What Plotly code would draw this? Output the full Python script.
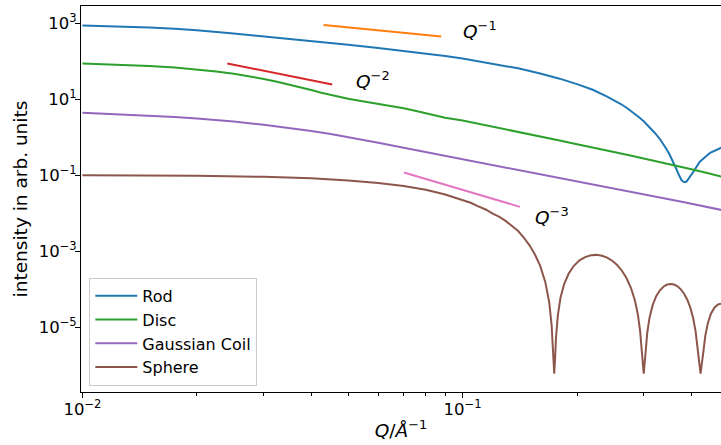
import math
import plotly.graph_objects as go

# ---------------- data ----------------
q_rod = [0.01, 0.0125, 0.015, 0.0175, 0.02, 0.025, 0.03, 0.035, 0.04, 0.05, 0.06, 0.07,
         0.08, 0.09, 0.1, 0.12, 0.14, 0.16, 0.18, 0.2, 0.22, 0.24, 0.25, 0.26, 0.27,
         0.28, 0.29, 0.3, 0.31, 0.32, 0.33, 0.337, 0.343, 0.35,
         0.358, 0.366, 0.371, 0.3765, 0.3805, 0.3845, 0.3885, 0.3926,
         0.3985, 0.4047, 0.4207, 0.4478, 0.479]
i_rod = [892, 846, 788, 725, 665, 548, 462, 397, 343, 277, 228, 192,
         163, 139, 120, 88, 66, 48.5, 35.3, 25.3, 18, 11.9, 9.7, 7.7, 6.05,
         4.7, 3.5, 2.62, 1.87, 1.33, 0.92, 0.68, 0.51, 0.36,
         0.23, 0.138, 0.100, 0.075, 0.068, 0.066, 0.069, 0.079,
         0.099, 0.124, 0.228, 0.394, 0.532]

q_disc = [0.01, 0.0125, 0.015, 0.0175, 0.02, 0.0225, 0.025, 0.0275, 0.03, 0.0325, 0.035,
          0.0375, 0.04, 0.0425, 0.045, 0.0475, 0.05, 0.055, 0.06, 0.065, 0.07, 0.075,
          0.08, 0.09, 0.1, 0.11, 0.12, 0.13, 0.14, 0.16, 0.18, 0.2, 0.22, 0.25, 0.28,
          0.3, 0.32, 0.36, 0.4, 0.44, 0.48]
i_disc = [88.6, 83.4, 76.0, 69.4, 61.9, 54.6, 47.4, 40.8, 34.8, 29.4, 24.8,
          20.8, 17.7, 15.1, 13.1, 11.5, 10.4, 8.78, 7.70, 6.77, 5.87, 5.02,
          4.28, 3.30, 2.77, 2.29, 1.87, 1.59, 1.40, 1.04, 0.83, 0.657, 0.545, 0.414, 0.322,
          0.278, 0.240, 0.184, 0.144, 0.115, 0.092]

q_coil = [0.01, 0.0125, 0.015, 0.0175, 0.02, 0.025, 0.03, 0.035, 0.04, 0.045, 0.05, 0.06,
          0.07, 0.08, 0.09, 0.1, 0.12, 0.14, 0.16, 0.18, 0.2, 0.25, 0.3, 0.38, 0.48]
i_coil = [4.44, 4.08, 3.76, 3.45, 3.17, 2.62, 2.14, 1.77, 1.47, 1.22, 1.02, 0.72,
          0.53, 0.41, 0.328, 0.267, 0.184, 0.137, 0.1063, 0.0865, 0.0705, 0.0458,
          0.032, 0.0198, 0.0122]

q_sphere = [0.01, 0.02, 0.03, 0.04, 0.05, 0.06, 0.07, 0.08, 0.09, 0.095, 0.1, 0.105,
            0.11, 0.115, 0.12, 0.125, 0.13, 0.135, 0.14, 0.145, 0.15, 0.155, 0.16,
            0.165, 0.169, 0.1715, 0.1732, 0.1742, 0.1753, 0.176, 0.178, 0.181, 0.185,
            0.19, 0.196, 0.203, 0.21, 0.2175, 0.225, 0.2325, 0.24, 0.2475, 0.255,
            0.2625, 0.27, 0.2775, 0.284, 0.289, 0.293, 0.296, 0.2995, 0.303, 0.306,
            0.31, 0.316, 0.323, 0.33, 0.3375, 0.345, 0.3527, 0.36, 0.3675, 0.375,
            0.3825, 0.39, 0.397, 0.404, 0.41, 0.415, 0.4226, 0.43, 0.435, 0.442,
            0.45, 0.46, 0.47, 0.4783]
i_sphere = [0.1005, 0.0978, 0.0912, 0.0832, 0.0735, 0.0630, 0.0524, 0.0415, 0.0312,
            0.0266, 0.0224, 0.0189, 0.0152, 0.0126, 0.0098, 0.0080, 0.0062, 0.0046,
            0.0034, 0.00226, 0.00143, 8.2e-4, 4.1e-4, 1.55e-4, 4.5e-5, 1.1e-5, 1.45e-6,
            5.9e-7, 1.9e-6, 4.9e-6, 2.0e-5, 6.0e-5, 1.36e-4, 2.54e-4, 4.07e-4, 5.73e-4,
            7.0e-4, 7.83e-4, 8.0e-4, 7.6e-4, 6.75e-4, 5.6e-4, 4.32e-4, 3.06e-4, 1.94e-4,
            1.05e-4, 5.0e-5, 2.19e-5, 7.9e-6, 2.2e-6, 5.9e-7, 2.2e-6, 7.0e-6, 1.7e-5,
            3.73e-5, 6.5e-5, 9.2e-5, 1.16e-4, 1.32e-4, 1.37e-4, 1.32e-4, 1.19e-4, 9.9e-5,
            7.6e-5, 5.26e-5, 3.3e-5, 1.74e-5, 7.8e-6, 2.7e-6, 5.9e-7, 2.3e-6, 5.95e-6,
            1.31e-5, 2.26e-5, 3.3e-5, 3.97e-5, 4.14e-5]

# power-law guide lines
q_ref1 = [0.0431, 0.0879]
i_ref1 = [920, 455]
q_ref2 = [0.02405, 0.0454]
i_ref2 = [88.5, 24.8]
q_ref3 = [0.0701, 0.1416]
i_ref3 = [0.1186, 0.01473]

series_names = ["Rod", "Disc", "Gaussian Coil", "Sphere"]
guide_labels = ["<i>Q</i><sup>\u22121</sup>", "<i>Q</i><sup>\u22122</sup>",
                "<i>Q</i><sup>\u22123</sup>"]

x_tick_vals = [0.01, 0.1]
x_tick_text = ["10<sup>\u22122</sup>", "10<sup>\u22121</sup>"]
x_minor_vals = [0.02, 0.03, 0.04, 0.05, 0.06, 0.07, 0.08, 0.09, 0.2, 0.3, 0.4]
y_tick_vals = [1e3, 1e1, 1e-1, 1e-3, 1e-5]
y_tick_text = ["10<sup>3</sup>", "10<sup>1</sup>", "10<sup>\u22121</sup>",
               "10<sup>\u22123</sup>", "10<sup>\u22125</sup>"]

x_title = "<i>Q</i>/<i>\u00c5</i><sup>\u22121</sup>"
y_title = "intensity in arb. units"

# ---------------- figure ----------------
FONT = "DejaVu Sans, Verdana, sans-serif"
C = {"Rod": "#1f77b4", "Disc": "#2ca02c", "Gaussian Coil": "#9467bd", "Sphere": "#8c564b"}

fig = go.Figure()
for name, qs, vals in zip(series_names,
                          [q_rod, q_disc, q_coil, q_sphere],
                          [i_rod, i_disc, i_coil, i_sphere]):
    fig.add_trace(go.Scatter(x=qs, y=vals, mode="lines", name=name,
                             line=dict(color=C[name], width=2)))

for qs, vals, col in [(q_ref1, i_ref1, "#ff7f0e"), (q_ref2, i_ref2, "#d62728"),
                      (q_ref3, i_ref3, "#e377c2")]:
    fig.add_trace(go.Scatter(x=qs, y=vals, mode="lines", showlegend=False,
                             line=dict(color=col, width=2)))

ann_pos = [(0.1002, 590), (0.0523, 28.5), (0.155, 0.0075)]
for (ax, ay), txt in zip(ann_pos, guide_labels):
    fig.add_annotation(x=math.log10(ax), y=math.log10(ay), text=txt, showarrow=False,
                       xanchor="left", yanchor="middle", xshift=-2, yshift=2,
                       font=dict(family=FONT, size=18.5, color="black"))

fig.update_layout(
    width=721, height=445,
    margin=dict(l=81, r=0, t=6, b=53, autoexpand=False),
    paper_bgcolor="white", plot_bgcolor="white",
    font=dict(family=FONT, size=16, color="black"),
    showlegend=True,
    legend=dict(x=0.013, y=0.016, xanchor="left", yanchor="bottom", itemwidth=42,
                bgcolor="rgba(255,255,255,0.8)", bordercolor="#cccccc", borderwidth=1,
                font=dict(family=FONT, size=16, color="black")),
)

fig.update_xaxes(
    type="log", range=[-2.0037, -0.3203], automargin=False,
    showgrid=False, zeroline=False,
    showline=True, linecolor="black", linewidth=1, mirror=True,
    ticks="outside", ticklen=5, tickwidth=1, tickcolor="black",
    tickmode="array", tickvals=x_tick_vals, ticktext=x_tick_text,
    tickfont=dict(family=FONT, size=16.5, color="black"), ticklabelstandoff=-3,
    minor=dict(ticks="outside", ticklen=3, tickwidth=1, tickcolor="black",
               tickmode="array", tickvals=x_minor_vals, showgrid=False),
    title=dict(text=x_title, font=dict(family=FONT, size=18.5, color="black"), standoff=6),
)
fig.update_yaxes(
    type="log", range=[-6.711, 3.463], automargin=False,
    showgrid=False, zeroline=False,
    showline=True, linecolor="black", linewidth=1, mirror=False,
    ticks="outside", ticklen=5, tickwidth=1, tickcolor="black",
    tickmode="array", tickvals=y_tick_vals, ticktext=y_tick_text,
    tickfont=dict(family=FONT, size=16.5, color="black"), ticklabelstandoff=-5,
    title=dict(text=y_title, font=dict(family=FONT, size=18.5, color="black"), standoff=6),
)

fig.write_html("out.html", config={"displayModeBar": False},
               post_script="document.body.style.margin='0px';")
